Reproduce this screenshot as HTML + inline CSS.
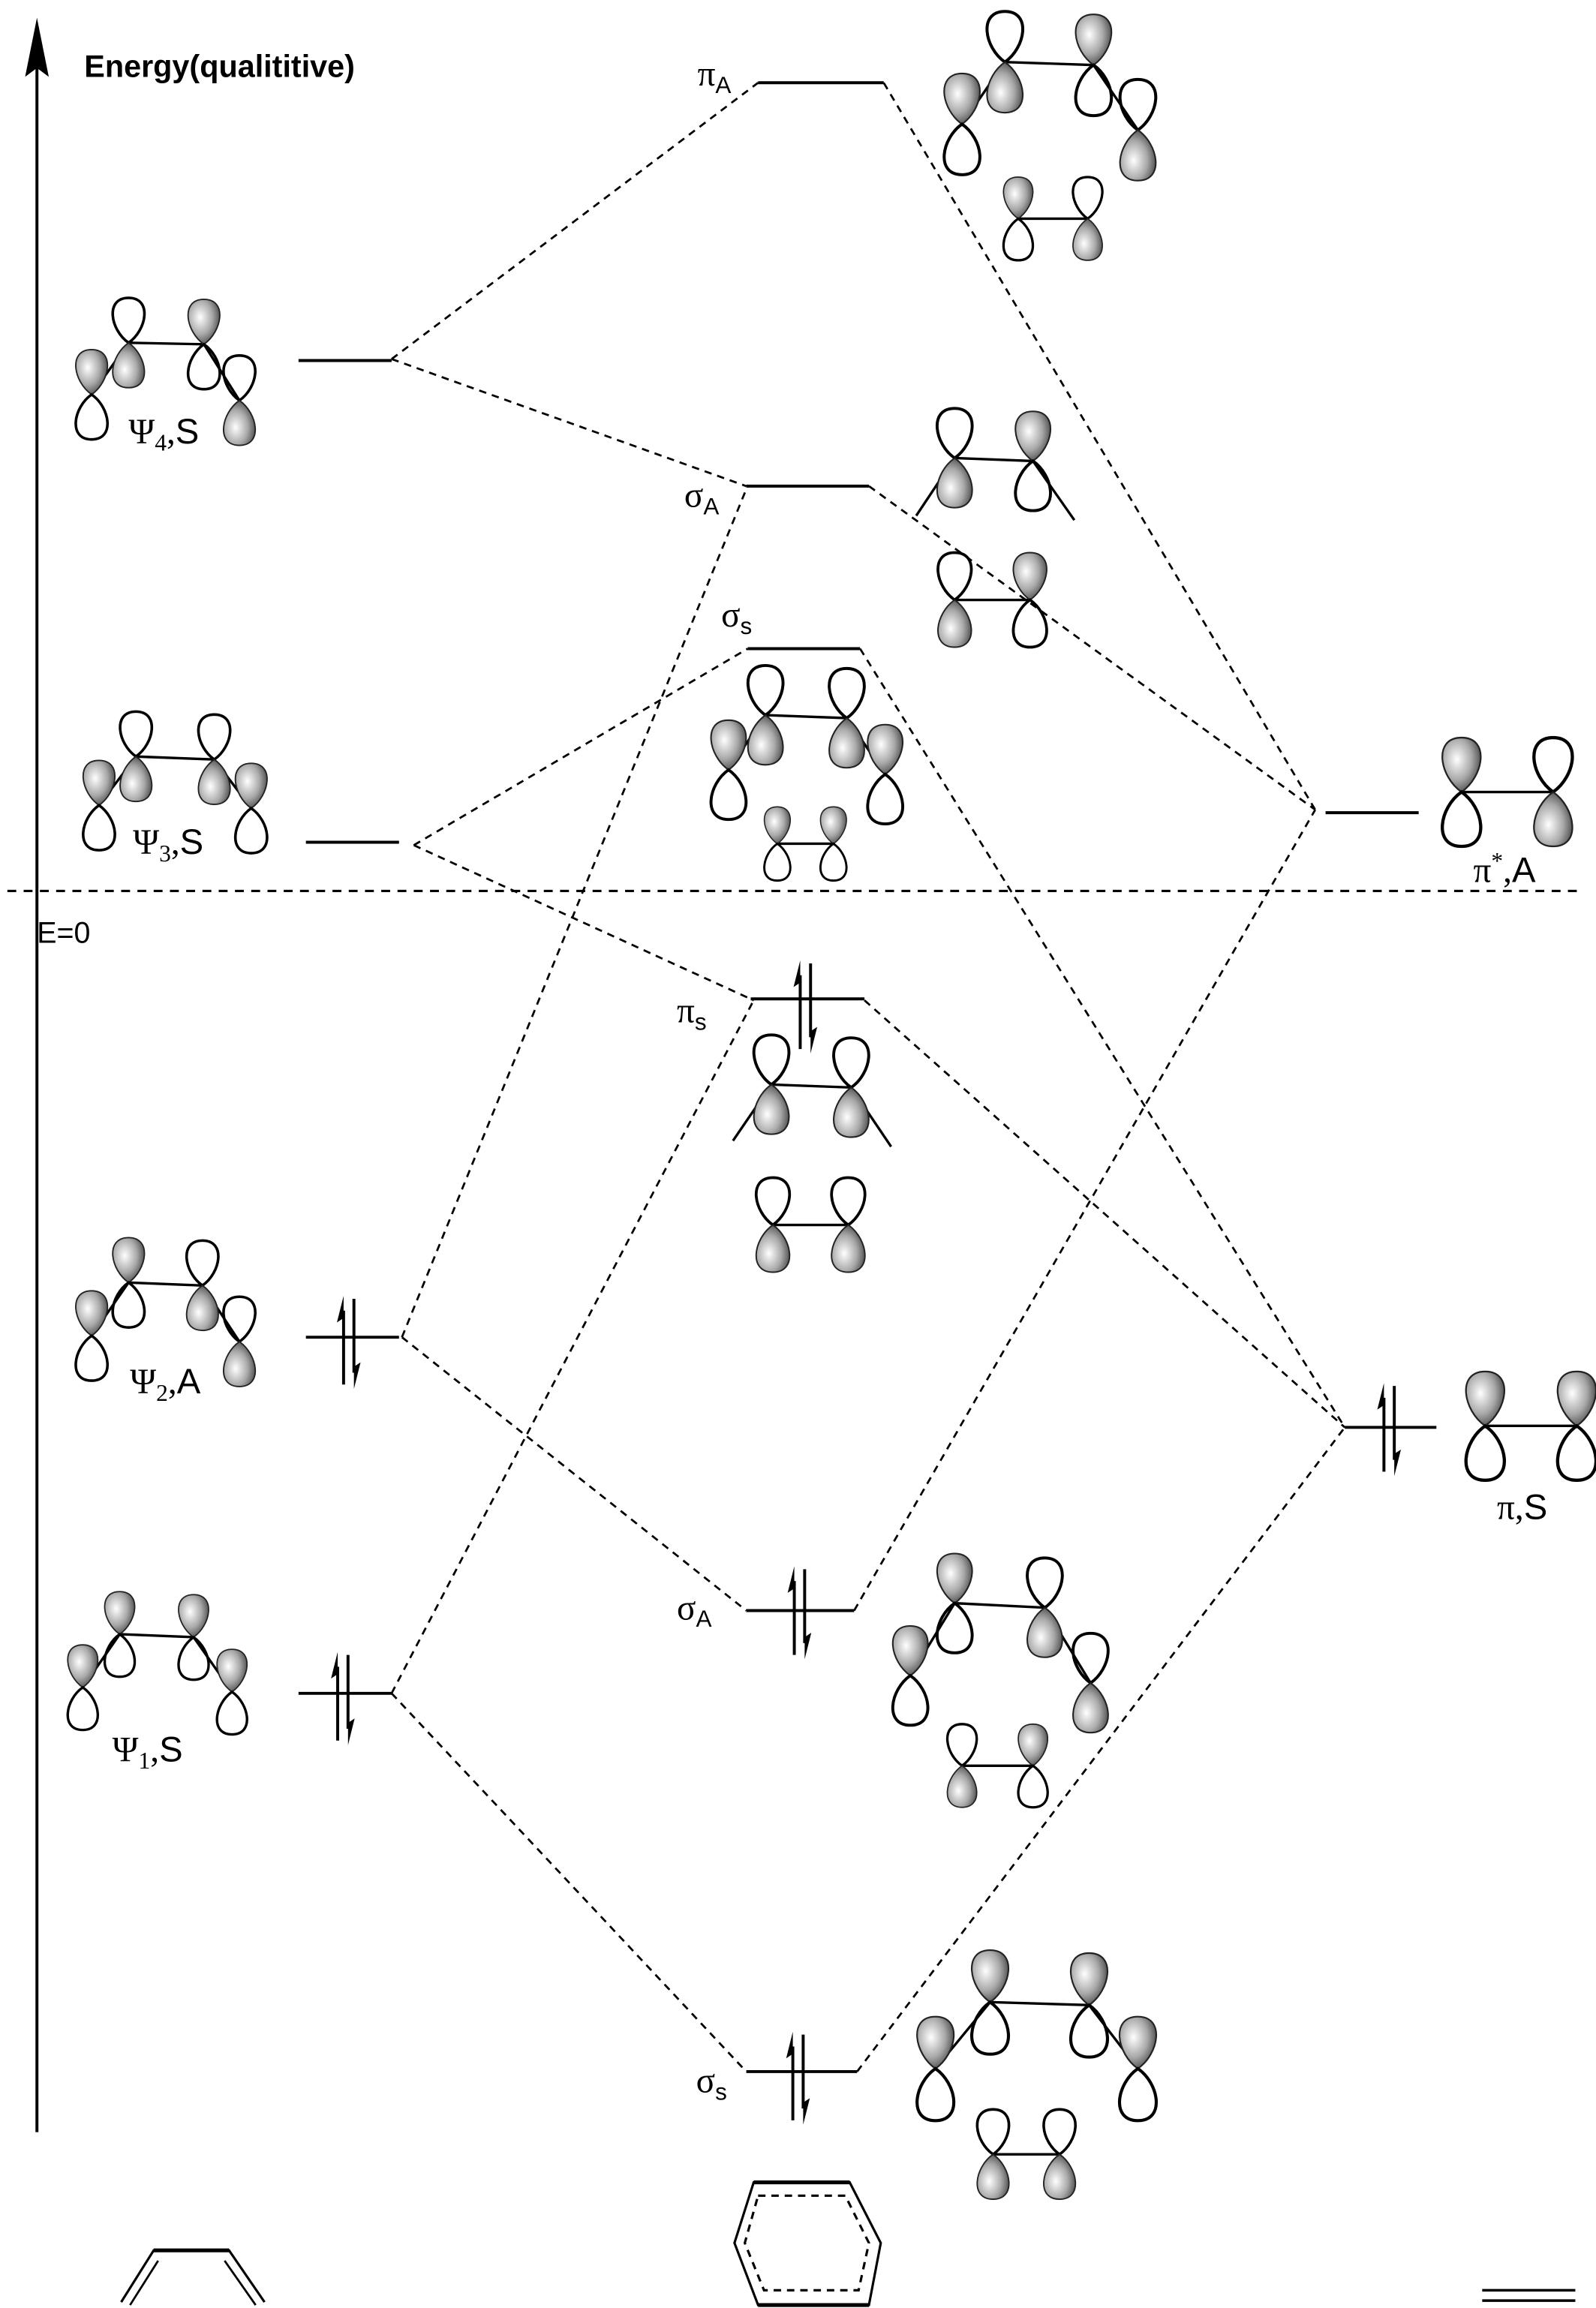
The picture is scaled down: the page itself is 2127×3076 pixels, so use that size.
<!DOCTYPE html>
<html><head><meta charset="utf-8"><style>
html,body{margin:0;padding:0;background:#fff;}
svg{display:block;}
text{font-family:"Liberation Sans",sans-serif;fill:#000;}
.lv{stroke:#000;stroke-width:2;fill:none;}
.ds{stroke:#000;stroke-width:1.4;stroke-dasharray:5 4;fill:none;}
.bd{stroke:#000;stroke-width:1.7;fill:none;}
.lb{font-family:"Liberation Serif","DejaVu Serif",serif;font-size:24px;}
</style></head><body>
<svg width="2127" height="3076" viewBox="0 0 1080 1562" preserveAspectRatio="none" xmlns="http://www.w3.org/2000/svg">
<defs>
<radialGradient id="g" cx="0.38" cy="0.4" r="0.7">
<stop offset="0" stop-color="#ffffff"/><stop offset="0.55" stop-color="#a8a8a8"/><stop offset="1" stop-color="#3a3a3a"/>
</radialGradient>
<path id="F" d="M0,0 C-13,-9 -17,-32 0,-32 C17,-32 13,-9 0,0Z" fill="url(#g)" stroke="#222" stroke-width="1"/>
<path id="O" d="M0,0 C-13,-9 -17,-32 0,-32 C17,-32 13,-9 0,0Z" fill="none" stroke="#000" stroke-width="1.9"/>
<g id="FO"><use href="#F"/><use href="#O" transform="scale(1,-1)"/></g>
<g id="OF"><use href="#O"/><use href="#F" transform="scale(1,-1)"/></g>
<g id="ee">
<line x1="-3.5" y1="30" x2="-3.5" y2="-20" stroke="#000" stroke-width="2"/>
<polygon points="-3.5,-30 -8,-12 -3.5,-15" fill="#000"/>
<line x1="3.5" y1="-28" x2="3.5" y2="22" stroke="#000" stroke-width="2"/>
<polygon points="3.5,33 8,15 3.5,18" fill="#000"/>
</g>
</defs>

<line x1="25" y1="40" x2="25" y2="1443" stroke="#000" stroke-width="2"/>
<polygon points="25,12 17,52 25,46 33,52" fill="#000"/>
<text x="57" y="52" font-size="21" font-weight="bold">Energy(qualititive)</text>
<line x1="5" y1="603" x2="1072" y2="603" stroke="#000" stroke-width="1.6" stroke-dasharray="6 5"/>
<text x="25" y="638" font-size="20">E=0</text>

<path class="ds" d="M265,243 L513,56 M265,243 L505,329"/>
<path class="ds" d="M280,572 L506,439 M280,572 L510,677"/>
<path class="ds" d="M272,905 L505,331 M272,905 L505,1090"/>
<path class="ds" d="M265,1146 L510,677 M265,1146 L505,1402"/>
<path class="ds" d="M598,56 L890,548 M588,329 L890,548 M578,1090 L890,548"/>
<path class="ds" d="M582,439 L910,966 M585,677 L910,966 M580,1402 L910,966"/>

<path class="lv" d="M202,244 H265"/>
<path class="lv" d="M207,570 H270"/>
<path class="lv" d="M207,905 H270"/>
<path class="lv" d="M202,1146 H265"/>
<path class="lv" d="M513,56 H598"/>
<path class="lv" d="M505,329 H588"/>
<path class="lv" d="M506,439 H582"/>
<path class="lv" d="M508,676 H585"/>
<path class="lv" d="M505,1090 H578"/>
<path class="lv" d="M505,1402 H580"/>
<path class="lv" d="M897,550 H960"/>
<path class="lv" d="M910,966 H972"/>

<use href="#ee" x="236" y="907"/>
<use href="#ee" x="232" y="1148"/>
<use href="#ee" x="545" y="680"/>
<use href="#ee" x="541" y="1090"/>
<use href="#ee" x="540" y="1405"/>
<use href="#ee" x="940" y="966"/>

<text class="lb" x="87" y="300">Ψ<tspan font-size="16" dy="5">4</tspan><tspan dy="-5">,</tspan><tspan font-family="Liberation Sans">S</tspan></text>
<text class="lb" x="90" y="578">Ψ<tspan font-size="16" dy="5">3</tspan><tspan dy="-5">,</tspan><tspan font-family="Liberation Sans">S</tspan></text>
<text class="lb" x="88" y="943">Ψ<tspan font-size="16" dy="5">2</tspan><tspan dy="-5">,</tspan><tspan font-family="Liberation Sans">A</tspan></text>
<text class="lb" x="76" y="1192">Ψ<tspan font-size="16" dy="5">1</tspan><tspan dy="-5">,</tspan><tspan font-family="Liberation Sans">S</tspan></text>
<text class="lb" x="472" y="58">π<tspan font-family="Liberation Sans" font-size="16" dy="5">A</tspan></text>
<text class="lb" x="463" y="343">σ<tspan font-family="Liberation Sans" font-size="16" dy="5">A</tspan></text>
<text class="lb" x="488" y="424">σ<tspan font-family="Liberation Sans" font-size="16" dy="5">s</tspan></text>
<text class="lb" x="458" y="692">π<tspan font-family="Liberation Sans" font-size="16" dy="5">s</tspan></text>
<text class="lb" x="458" y="1096">σ<tspan font-family="Liberation Sans" font-size="16" dy="5">A</tspan></text>
<text class="lb" x="471" y="1416">σ<tspan font-family="Liberation Sans" font-size="16" dy="5">s</tspan></text>
<text class="lb" x="997" y="597">π<tspan font-size="16" dy="-9">*</tspan><tspan dy="9">,</tspan><tspan font-family="Liberation Sans">A</tspan></text>
<text class="lb" x="1013" y="1028">π,<tspan font-family="Liberation Sans">S</tspan></text>

<polyline class="bd" points="62,267 87,232 138,233 162,271"/>
<polyline class="bd" points="67,545 92,512 145,514 170,547"/>
<polyline class="bd" points="62,904 87,868 137,870 162,908"/>
<polyline class="bd" points="56,1142 81,1106 131,1108 157,1145"/>
<polyline class="bd" points="651,84 680,42 740,44 770,88"/>
<line class="bd" x1="689" y1="148" x2="736" y2="148"/>
<polyline class="bd" points="620,349 646,310 699,312 727,352"/>
<line class="bd" x1="646" y1="406" x2="697" y2="406"/>
<polyline class="bd" points="493,521 518,484 573,486 599,524"/>
<line class="bd" x1="526" y1="571" x2="564" y2="571"/>
<polyline class="bd" points="496,772 522,734 576,736 603,776"/>
<line class="bd" x1="523" y1="829" x2="574" y2="829"/>
<polyline class="bd" points="616,1134 646,1085 707,1088 738,1139"/>
<line class="bd" x1="651" y1="1195" x2="699" y2="1195"/>
<polyline class="bd" points="633,1400 670,1355 737,1357 770,1400"/>
<line class="bd" x1="672" y1="1458" x2="717" y2="1458"/>
<line class="bd" x1="989" y1="536" x2="1051" y2="536"/>
<line class="bd" x1="1005" y1="965" x2="1067" y2="965"/>

<g transform="translate(62,267) scale(.95)"><use href="#FO"/></g>
<g transform="translate(87,232) scale(.95)"><use href="#OF"/></g>
<g transform="translate(138,233) scale(.95)"><use href="#FO"/></g>
<g transform="translate(162,271) scale(.95)"><use href="#OF"/></g>

<g transform="translate(67,545) scale(.95)"><use href="#FO"/></g>
<g transform="translate(92,512) scale(.95)"><use href="#OF"/></g>
<g transform="translate(145,514) scale(.95)"><use href="#OF"/></g>
<g transform="translate(170,547) scale(.95)"><use href="#FO"/></g>

<g transform="translate(62,904) scale(.95)"><use href="#FO"/></g>
<g transform="translate(87,868) scale(.95)"><use href="#FO"/></g>
<g transform="translate(137,870) scale(.95)"><use href="#OF"/></g>
<g transform="translate(162,908) scale(.95)"><use href="#OF"/></g>

<g transform="translate(56,1142) scale(.9)"><use href="#FO"/></g>
<g transform="translate(81,1106) scale(.9)"><use href="#FO"/></g>
<g transform="translate(131,1108) scale(.9)"><use href="#FO"/></g>
<g transform="translate(157,1145) scale(.9)"><use href="#FO"/></g>

<g transform="translate(680,42) scale(1.07)"><use href="#OF"/></g>
<g transform="translate(740,44) scale(1.07)"><use href="#FO"/></g>
<g transform="translate(651,84) scale(1.07)"><use href="#FO"/></g>
<g transform="translate(770,88) scale(1.07)"><use href="#OF"/></g>
<g transform="translate(689,148) scale(.88)"><use href="#FO"/></g>
<g transform="translate(736,148) scale(.88)"><use href="#OF"/></g>

<g transform="translate(646,310) scale(1.05)"><use href="#OF"/></g>
<g transform="translate(699,312) scale(1.05)"><use href="#FO"/></g>
<g transform="translate(646,406) scale(1.0)"><use href="#OF"/></g>
<g transform="translate(697,406) scale(1.0)"><use href="#FO"/></g>

<g transform="translate(518,484) scale(1.05)"><use href="#OF"/></g>
<g transform="translate(573,486) scale(1.05)"><use href="#OF"/></g>
<g transform="translate(493,521) scale(1.05)"><use href="#FO"/></g>
<g transform="translate(599,524) scale(1.05)"><use href="#FO"/></g>
<g transform="translate(526,571) scale(.78)"><use href="#FO"/></g>
<g transform="translate(564,571) scale(.78)"><use href="#FO"/></g>

<g transform="translate(522,734) scale(1.05)"><use href="#OF"/></g>
<g transform="translate(576,736) scale(1.05)"><use href="#OF"/></g>
<g transform="translate(523,829) scale(1.0)"><use href="#OF"/></g>
<g transform="translate(574,829) scale(1.0)"><use href="#OF"/></g>

<g transform="translate(646,1085) scale(1.05)"><use href="#FO"/></g>
<g transform="translate(707,1088) scale(1.05)"><use href="#OF"/></g>
<g transform="translate(616,1134) scale(1.05)"><use href="#FO"/></g>
<g transform="translate(738,1139) scale(1.05)"><use href="#OF"/></g>
<g transform="translate(651,1195) scale(.88)"><use href="#OF"/></g>
<g transform="translate(699,1195) scale(.88)"><use href="#FO"/></g>

<g transform="translate(670,1355) scale(1.1)"><use href="#FO"/></g>
<g transform="translate(737,1357) scale(1.1)"><use href="#FO"/></g>
<g transform="translate(633,1400) scale(1.1)"><use href="#FO"/></g>
<g transform="translate(770,1400) scale(1.1)"><use href="#FO"/></g>
<g transform="translate(672,1458) scale(.95)"><use href="#OF"/></g>
<g transform="translate(717,1458) scale(.95)"><use href="#OF"/></g>

<g transform="translate(989,536) scale(1.15)"><use href="#FO"/></g>
<g transform="translate(1051,536) scale(1.15)"><use href="#OF"/></g>
<g transform="translate(1005,965) scale(1.15)"><use href="#FO"/></g>
<g transform="translate(1067,965) scale(1.15)"><use href="#FO"/></g>

<g stroke="#000" fill="none">
<path d="M82,1558 L104,1523 H155 L179,1558" stroke-width="1.6"/>
<line x1="104" y1="1523" x2="155" y2="1523" stroke-width="2.6"/>
<line x1="88" y1="1560" x2="107" y2="1530" stroke-width="1.4"/>
<line x1="152" y1="1530" x2="173" y2="1560" stroke-width="1.4"/>
<path d="M510,1477 H575 L596,1518 L588,1560 H513 L497,1518 Z" stroke-width="1.6"/>
<line x1="510" y1="1477" x2="575" y2="1477" stroke-width="2.6"/>
<line x1="513" y1="1560" x2="588" y2="1560" stroke-width="2.6"/>
<path d="M513,1486 H572 L588,1518 L581,1550 H517 L504,1518 Z" stroke-width="1.6" stroke-dasharray="5 4"/>
<line x1="1003" y1="1550" x2="1066" y2="1550" stroke-width="1.8"/>
<line x1="1003" y1="1557" x2="1066" y2="1557" stroke-width="1.8"/>
</g>
</svg>
</body></html>
